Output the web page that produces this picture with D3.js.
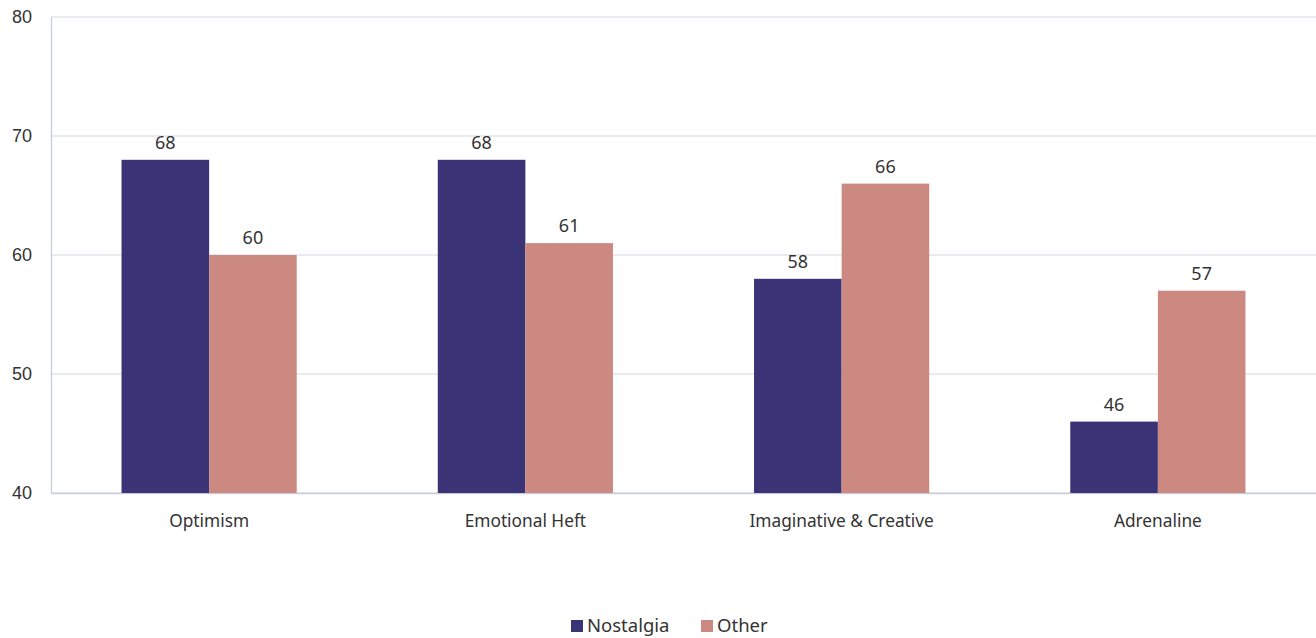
<!DOCTYPE html>
<html>
<head>
<meta charset="utf-8">
<script src="https://cdn.jsdelivr.net/npm/d3@7"></script>
<style>
  body { margin: 0; background: #fff; }
  text { font-family: "Noto Sans", Lato, sans-serif; fill: #333; }
</style>
</head>
<body>
<div id="chart"></div>
<script>
const categories = ['Optimism', 'Emotional Heft', 'Imaginative & Creative', 'Adrenaline'];
const seriesNames = ['Nostalgia', 'Other'];
const nostalgia = [68, 68, 58, 46];
const other = [60, 61, 66, 57];
const yTicks = [40, 50, 60, 70, 80];
const colors = ['#3a3476', '#cc8982'];

const W = 1316, H = 638;
const margin = {top: 17, right: 0, bottom: 145, left: 51};
const width = W - margin.left - margin.right,
  height = H - margin.top - margin.bottom;

const svg = d3.select('#chart').append('svg')
  .attr('width', W)
  .attr('height', H);

const g = svg.append('g')
  .attr('transform', `translate(${margin.left}, ${margin.top})`);

const x = d3.scaleBand()
  .domain(categories)
  .range([0, width])
  .paddingInner(0.446)
  .paddingOuter(0.223);

const xInner = d3.scaleBand()
  .domain(seriesNames)
  .range([0, x.bandwidth()]);

const y = d3.scaleLinear()
  .domain([40, 80])
  .range([height, 0]);

// gridlines
g.append('g')
  .selectAll('line')
  .data(yTicks)
  .join('line')
  .attr('x1', 0)
  .attr('x2', width)
  .attr('y1', d => y(d))
  .attr('y2', d => y(d))
  .attr('stroke', '#e2e5ec')
  .attr('stroke-width', 1.3);

// y axis
const yAxis = d3.axisLeft(y).tickValues(yTicks).tickSize(0).tickPadding(19);
const yg = g.append('g').call(yAxis);
yg.select('.domain').attr('stroke', '#c9cdd8').attr('stroke-width', 1.3);
yg.selectAll('text').attr('font-size', 18).attr('fill', '#333').style('font-family', '"Liberation Sans", Arial, sans-serif');

// x axis baseline + labels
const xAxis = d3.axisBottom(x).tickSize(0).tickPadding(22);
const xg = g.append('g').attr('transform', `translate(0, ${height})`).call(xAxis);
xg.select('.domain').attr('stroke', '#c9cdd8').attr('stroke-width', 1.3);
xg.selectAll('text').attr('font-size', 17.3).attr('fill', '#333').style('font-family', '"Noto Sans", sans-serif');

// bars
const rows = categories.map((c, i) => ({cat: c, values: [nostalgia[i], other[i]]}));

const groups = g.selectAll('.grp')
  .data(rows)
  .join('g')
  .attr('class', 'grp')
  .attr('transform', d => `translate(${x(d.cat)}, 0)`);

groups.selectAll('rect')
  .data(d => d.values.map((v, j) => ({name: seriesNames[j], v, j})))
  .join('rect')
  .attr('x', d => xInner(d.name))
  .attr('width', xInner.bandwidth())
  .attr('y', d => y(d.v))
  .attr('height', d => y(40) - y(d.v))
  .attr('fill', d => colors[d.j]);

groups.selectAll('.val')
  .data(d => d.values.map((v, j) => ({name: seriesNames[j], v, j})))
  .join('text')
  .attr('class', 'val')
  .attr('x', d => xInner(d.name) + xInner.bandwidth() / 2)
  .attr('y', d => y(d.v) - 11)
  .attr('text-anchor', 'middle')
  .attr('font-size', 18)
  .text(d => d.v);

// legend
const legend = svg.append('g').attr('transform', 'translate(571, 626)');
const items = legend.selectAll('g')
  .data(seriesNames)
  .join('g')
  .attr('transform', (d, i) => `translate(${i === 0 ? 0 : 130}, 0)`);
items.append('rect')
  .attr('x', 0).attr('y', -6)
  .attr('width', 12).attr('height', 12)
  .attr('fill', (d, i) => colors[i]);
items.append('text')
  .attr('x', 16)
  .attr('dy', '0.33em')
  .attr('font-size', 18.5)
  .text(d => d);
</script>
</body>
</html>
